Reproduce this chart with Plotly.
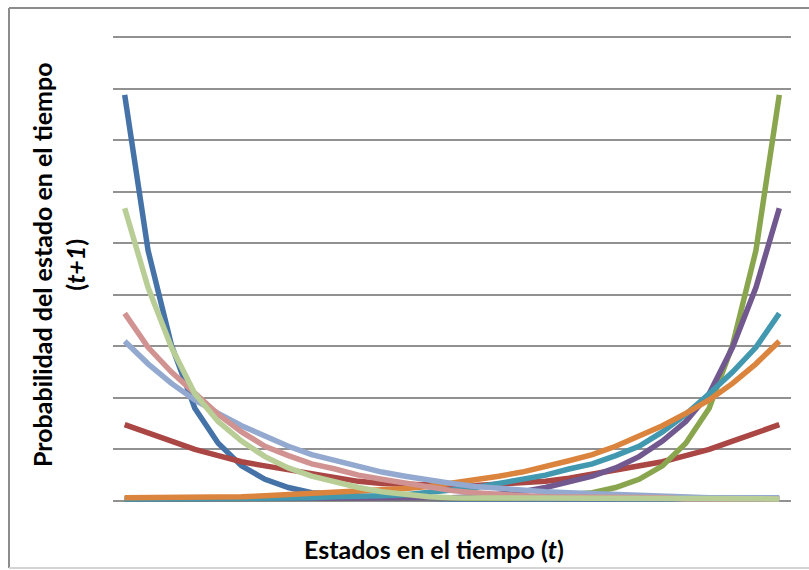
import plotly.graph_objects as go

states = list(range(29))

blue = [0.394, 0.243, 0.151, 0.090, 0.056, 0.034, 0.021, 0.013, 0.008, 0.006,
        0.004, 0.003, 0.003, 0.002, 0.002, 0.002, 0.002, 0.002, 0.002, 0.002,
        0.002, 0.002, 0.002, 0.002, 0.002, 0.002, 0.002, 0.002, 0.002]
red = [0.074, 0.066, 0.058, 0.050, 0.044, 0.038, 0.034, 0.030, 0.026, 0.022,
       0.019, 0.017, 0.016, 0.015, 0.015, 0.015, 0.016, 0.017, 0.019, 0.022,
       0.026, 0.030, 0.034, 0.038, 0.044, 0.050, 0.058, 0.066, 0.074]
green = [0.002, 0.002, 0.002, 0.002, 0.002, 0.002, 0.002, 0.002, 0.002, 0.002,
         0.002, 0.002, 0.002, 0.002, 0.002, 0.002, 0.003, 0.003, 0.004, 0.006,
         0.008, 0.013, 0.021, 0.034, 0.056, 0.090, 0.151, 0.243, 0.394]
purple = [0.002, 0.002, 0.002, 0.002, 0.002, 0.002, 0.002, 0.002, 0.002, 0.002,
          0.002, 0.002, 0.002, 0.003, 0.003, 0.004, 0.006, 0.009, 0.013, 0.018,
          0.024, 0.032, 0.043, 0.058, 0.077, 0.104, 0.149, 0.207, 0.284]
teal = [0.002, 0.002, 0.002, 0.002, 0.002, 0.003, 0.003, 0.003, 0.003, 0.004,
        0.004, 0.005, 0.006, 0.008, 0.010, 0.013, 0.017, 0.021, 0.025, 0.031,
        0.036, 0.044, 0.053, 0.067, 0.084, 0.104, 0.125, 0.149, 0.182]
orange = [0.003, 0.003, 0.003, 0.003, 0.004, 0.004, 0.005, 0.006, 0.007,
          0.008, 0.009, 0.010, 0.012, 0.014, 0.017, 0.020, 0.024, 0.028, 0.033,
          0.039, 0.045, 0.053, 0.063, 0.073, 0.085, 0.098, 0.114, 0.133, 0.155]
light_blue = [0.155, 0.133, 0.114, 0.098, 0.085, 0.073, 0.063, 0.053, 0.045, 0.039,
              0.033, 0.028, 0.024, 0.020, 0.017, 0.014, 0.012, 0.010, 0.009, 0.008,
              0.007, 0.006, 0.005, 0.004, 0.004, 0.003, 0.003, 0.003, 0.003]
pink = [0.182, 0.149, 0.125, 0.104, 0.084, 0.067, 0.053, 0.044, 0.036, 0.031,
        0.025, 0.021, 0.017, 0.013, 0.010, 0.008, 0.006, 0.005, 0.004, 0.004,
        0.003, 0.003, 0.003, 0.003, 0.002, 0.002, 0.002, 0.002, 0.002]
light_green = [0.284, 0.207, 0.149, 0.104, 0.077, 0.058, 0.043, 0.032, 0.024, 0.018,
               0.013, 0.009, 0.006, 0.004, 0.003, 0.003, 0.002, 0.002, 0.002, 0.002,
               0.002, 0.002, 0.002, 0.002, 0.002, 0.002, 0.002, 0.002, 0.002]

series = [
    (blue, "#4572A7"),
    (red, "#AA4643"),
    (green, "#89A54E"),
    (purple, "#71588F"),
    (teal, "#4198AF"),
    (orange, "#DB843D"),
    (light_blue, "#93A9CF"),
    (pink, "#D19392"),
    (light_green, "#B9CD96"),
]

fig = go.Figure()
for vals, col in series:
    fig.add_trace(go.Scatter(x=states, y=vals, mode="lines",
                             line=dict(color=col, width=5.5), hoverinfo="skip"))

L, R, T, B = 113, 18, 35, 67
W, H = 809, 570
pw, ph = W - L - R, H - T - B

def px_x(p):
    return (p - L) / pw

def px_y(p):
    return (H - B - p) / ph

fig.update_layout(
    width=W, height=H,
    margin=dict(l=L, r=R, t=T, b=B, pad=0),
    paper_bgcolor="white", plot_bgcolor="white",
    showlegend=False,
    xaxis=dict(range=[-0.5, 28.5], showgrid=False, zeroline=False,
               showticklabels=False, ticks="", showline=False),
    yaxis=dict(range=[-0.002, 0.452], dtick=0.05, tick0=0,
               showgrid=True, gridcolor="#919191", gridwidth=2,
               zeroline=False, showticklabels=False, ticks="", showline=False),
    font=dict(family="Lato, 'Open Sans', sans-serif", color="#000000"),
)

# chart-area frame
fig.add_shape(type="line", xref="paper", yref="paper",
              x0=px_x(9), x1=px_x(9), y0=px_y(8), y1=px_y(568),
              line=dict(color="#8C8C8C", width=2))
fig.add_shape(type="line", xref="paper", yref="paper",
              x0=px_x(9), x1=px_x(815), y0=px_y(8), y1=px_y(8),
              line=dict(color="#8C8C8C", width=2))
fig.add_shape(type="line", xref="paper", yref="paper",
              x0=px_x(9), x1=px_x(815), y0=px_y(568), y1=px_y(568),
              line=dict(color="#D4D4D4", width=2))

fig.add_annotation(xref="paper", yref="paper", x=px_x(434), y=px_y(549),
                   text="<b>Estados en el tiempo (<i>t</i>)</b>",
                   showarrow=False, xanchor="center", yanchor="middle",
                   font=dict(size=25, family="Lato", color="#000000"))
fig.add_annotation(xref="paper", yref="paper", x=px_x(58), y=px_y(265),
                   text="<b>Probabilidad del estado en el tiempo<br>(<i>t+1</i>)</b>",
                   showarrow=False, xanchor="center", yanchor="middle",
                   textangle=-90,
                   font=dict(size=25, family="Lato", color="#000000"))

fig.write_html("out.html",
               config={"displayModeBar": False},
               post_script="document.body.style.margin='0';document.body.style.padding='0';")
